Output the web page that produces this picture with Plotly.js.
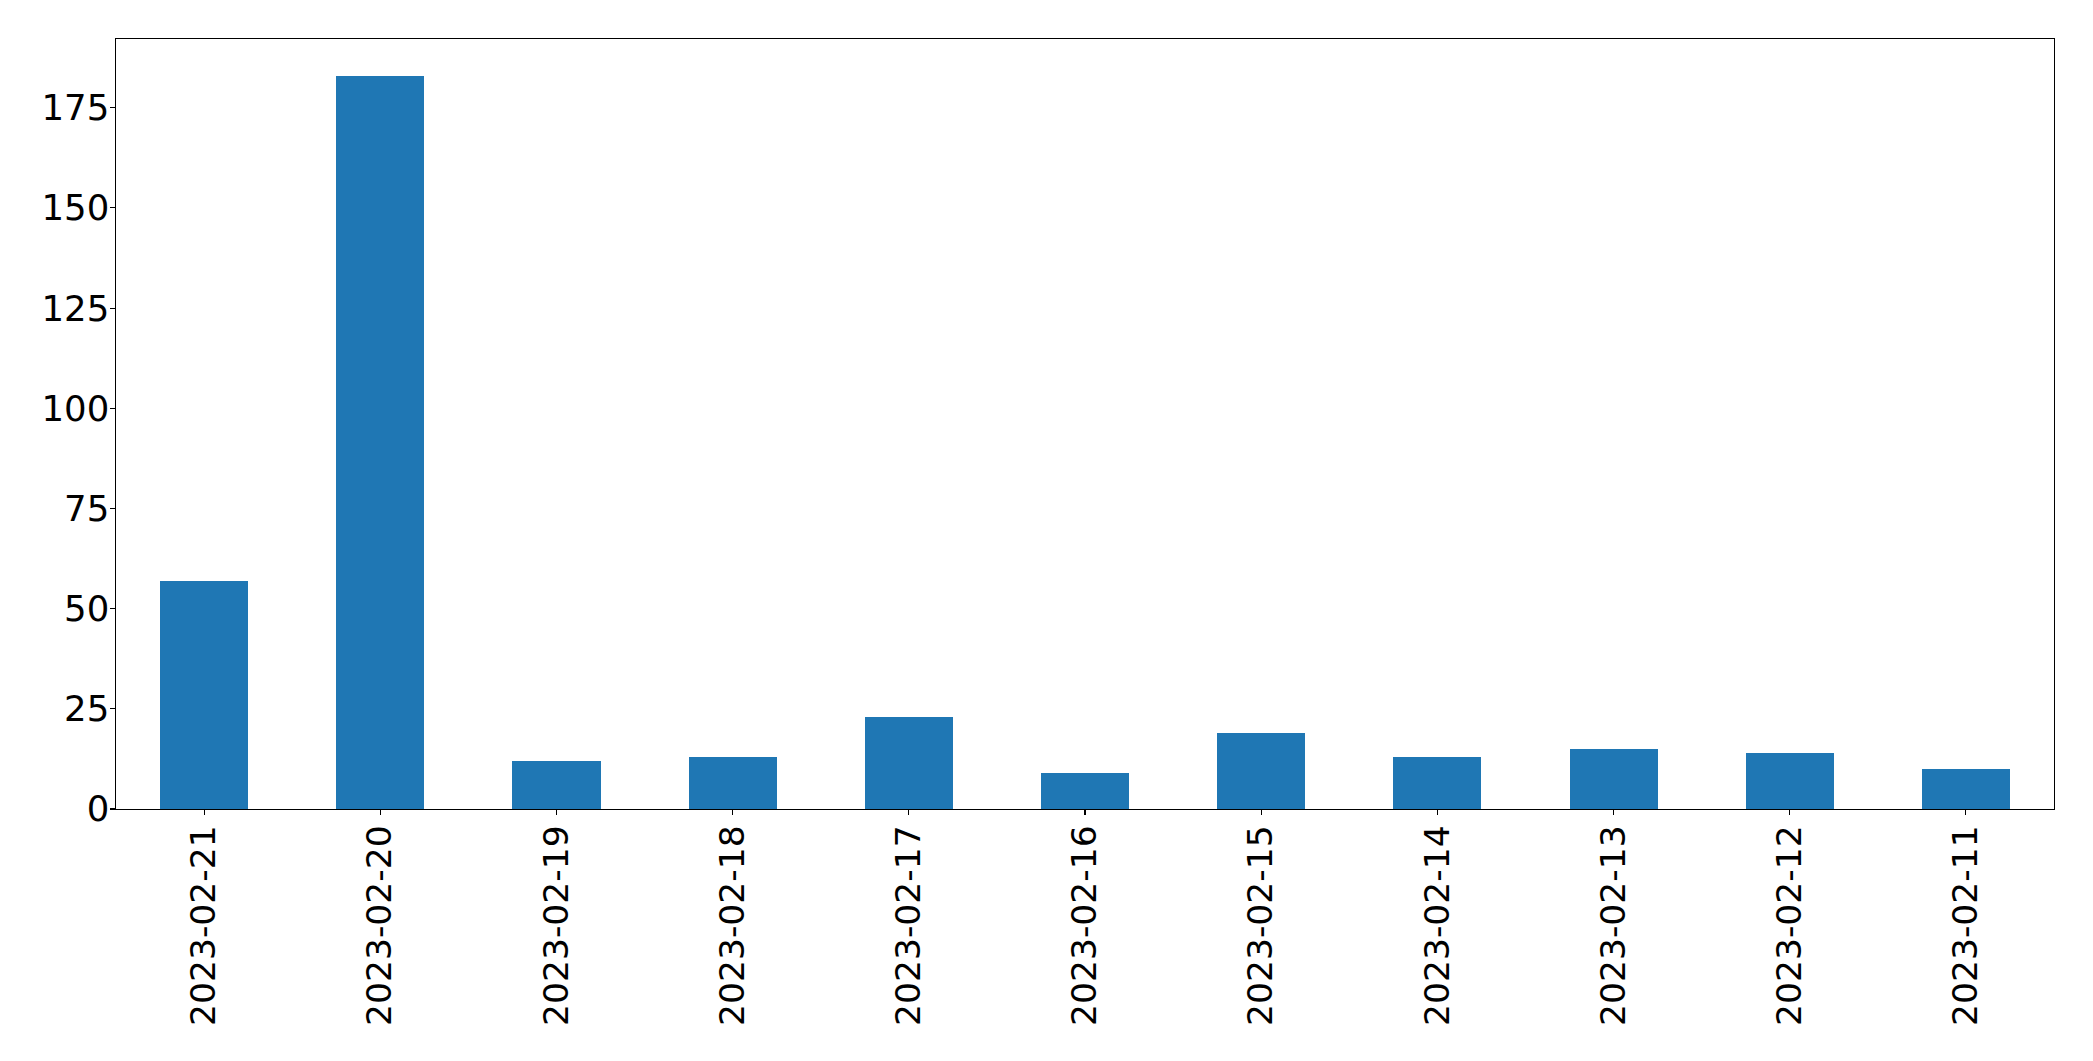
<!DOCTYPE html>
<html>
<head>
<meta charset="utf-8">
<script src="https://cdn.plot.ly/plotly-3.0.1.min.js"></script>
<style>html,body{margin:0;padding:0;background:#fff;}#chart{width:2093px;height:1061px;}</style>
</head>
<body>
<div id="chart"></div>
<script>
const dates = ["2023-02-21","2023-02-20","2023-02-19","2023-02-18","2023-02-17","2023-02-16","2023-02-15","2023-02-14","2023-02-13","2023-02-12","2023-02-11"];
const counts = [57, 183, 12, 13, 23, 9, 19, 13, 15, 14, 10];
const yTicks = [0, 25, 50, 75, 100, 125, 150, 175];

const trace = {
  type: 'bar',
  x: dates,
  y: counts,
  width: 0.5,
  marker: {color: '#1f77b4', line: {width: 0}},
  hoverinfo: 'x+y'
};
const yFont = {family: 'DejaVu Sans', size: 35.5, color: '#000'};
const xFont = {family: 'DejaVu Sans', size: 34.5, color: '#000'};
const layout = {
  width: 2093, height: 1061,
  margin: {l: 116, r: 39, t: 39, b: 252, pad: 0},
  paper_bgcolor: '#fff', plot_bgcolor: '#fff',
  showlegend: false,
  font: yFont,
  bargap: 0,
  xaxis: {
    type: 'category',
    range: [-0.5, dates.length - 0.5],
    tickangle: -90,
    ticks: 'outside', ticklen: 4.5, tickwidth: 1.1, tickcolor: '#000',
    showline: true, linecolor: '#000', linewidth: 1.1, mirror: true,
    showgrid: false, zeroline: false,
    tickfont: xFont,
    ticklabelstandoff: -3,
    fixedrange: true
  },
  yaxis: {
    range: [0, 183 * 1.05],
    tickvals: yTicks,
    ticktext: yTicks.map(String),
    ticks: 'outside', ticklen: 4.5, tickwidth: 1.1, tickcolor: '#000',
    showline: true, linecolor: '#000', linewidth: 1.1, mirror: true,
    showgrid: false, zeroline: false,
    tickfont: yFont,
    ticklabelstandoff: -6,
    fixedrange: true
  }
};
Plotly.newPlot('chart', [trace], layout, {displayModeBar: false, staticPlot: true});
</script>
</body>
</html>
